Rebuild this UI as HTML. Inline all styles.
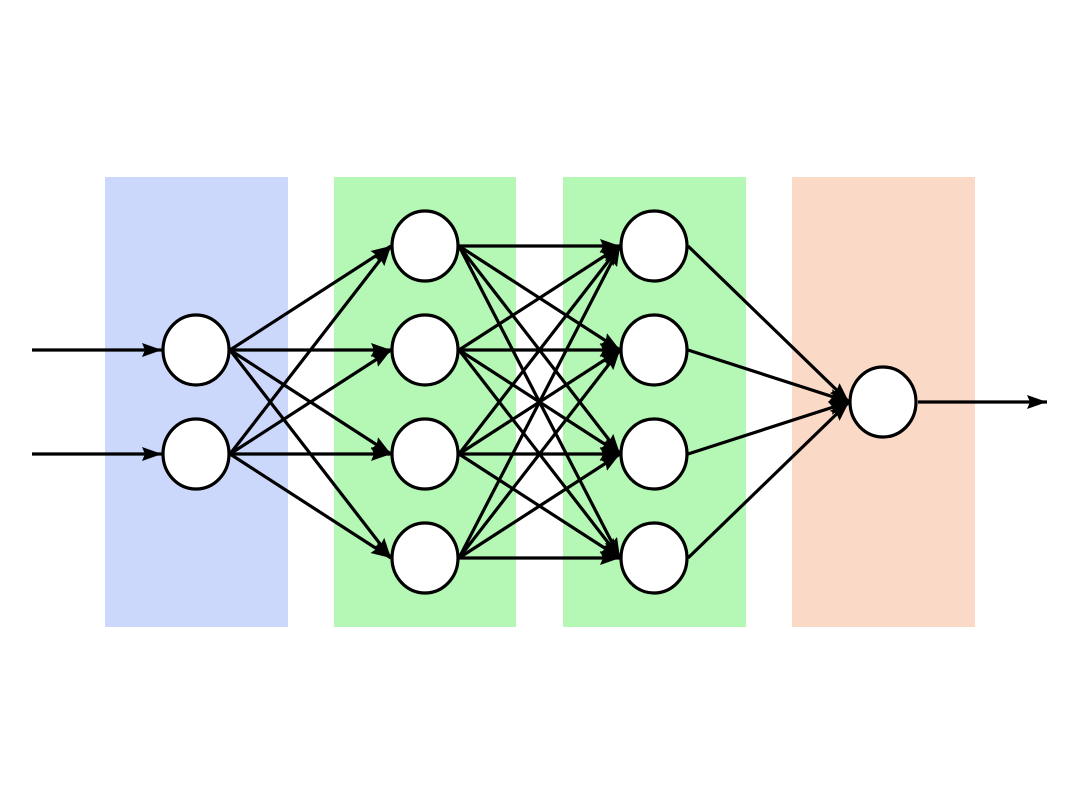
<!DOCTYPE html>
<html><head><style>html,body{margin:0;padding:0;background:#fff}svg{display:block}</style></head><body>
<svg width="1080" height="800" viewBox="0 0 1080 800" xmlns="http://www.w3.org/2000/svg">
<defs><marker id="a" markerWidth="20" markerHeight="14" refX="20" refY="7" orient="auto" markerUnits="userSpaceOnUse"><path d="M0,0 L20,7 L0,14 L3,7 Z" fill="#000"/></marker></defs>
<rect x="105" y="177" width="183" height="450" fill="#ccd8fb"/>
<rect x="334" y="177" width="182" height="450" fill="#b5f7b5"/>
<rect x="563" y="177" width="183" height="450" fill="#b5f7b5"/>
<rect x="792" y="177" width="183" height="450" fill="#fbd9c7"/>
<g stroke="#000" stroke-width="3.2" marker-end="url(#a)" fill="none">
<line x1="32" y1="350" x2="162" y2="350"/>
<line x1="32" y1="454" x2="162" y2="454"/>
<line x1="918" y1="402" x2="1047" y2="402"/>
<line x1="230" y1="350" x2="391" y2="246"/><line x1="230" y1="350" x2="391" y2="350"/><line x1="230" y1="350" x2="391" y2="454"/><line x1="230" y1="350" x2="391" y2="558"/>
<line x1="230" y1="454" x2="391" y2="246"/><line x1="230" y1="454" x2="391" y2="350"/><line x1="230" y1="454" x2="391" y2="454"/><line x1="230" y1="454" x2="391" y2="558"/>
<line x1="459" y1="246" x2="620" y2="246"/><line x1="459" y1="246" x2="620" y2="350"/><line x1="459" y1="246" x2="620" y2="454"/><line x1="459" y1="246" x2="620" y2="558"/>
<line x1="459" y1="350" x2="620" y2="246"/><line x1="459" y1="350" x2="620" y2="350"/><line x1="459" y1="350" x2="620" y2="454"/><line x1="459" y1="350" x2="620" y2="558"/>
<line x1="459" y1="454" x2="620" y2="246"/><line x1="459" y1="454" x2="620" y2="350"/><line x1="459" y1="454" x2="620" y2="454"/><line x1="459" y1="454" x2="620" y2="558"/>
<line x1="459" y1="558" x2="620" y2="246"/><line x1="459" y1="558" x2="620" y2="350"/><line x1="459" y1="558" x2="620" y2="454"/><line x1="459" y1="558" x2="620" y2="558"/>
<line x1="688" y1="246" x2="849" y2="402"/><line x1="688" y1="350" x2="849" y2="402"/><line x1="688" y1="454" x2="849" y2="402"/><line x1="688" y1="558" x2="849" y2="402"/>
</g>
<g fill="#fff" stroke="#000" stroke-width="3.2">
<ellipse cx="196" cy="350" rx="33" ry="35"/><ellipse cx="196" cy="454" rx="33" ry="35"/>
<ellipse cx="425" cy="246" rx="33" ry="35"/><ellipse cx="425" cy="350" rx="33" ry="35"/><ellipse cx="425" cy="454" rx="33" ry="35"/><ellipse cx="425" cy="558" rx="33" ry="35"/>
<ellipse cx="654" cy="246" rx="33" ry="35"/><ellipse cx="654" cy="350" rx="33" ry="35"/><ellipse cx="654" cy="454" rx="33" ry="35"/><ellipse cx="654" cy="558" rx="33" ry="35"/>
<ellipse cx="883" cy="402" rx="33" ry="35"/>
</g>
</svg>
</body></html>
